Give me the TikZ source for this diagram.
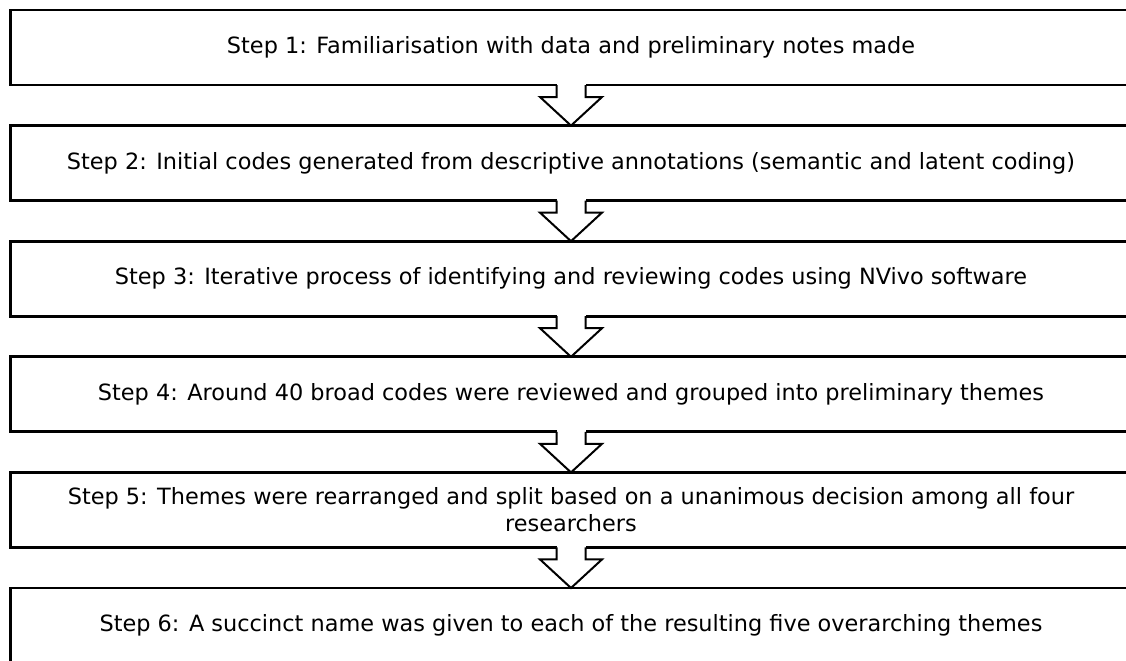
\documentclass[tikz,border=0pt]{standalone}
\usepackage{fontspec}
\setmainfont{DejaVu Sans}
\usetikzlibrary{positioning,calc}

\tikzset{
	stepbox/.style={draw, line width=1.4pt, minimum width=560.5pt, minimum height=37.5pt,
		align=center, font=\fontsize{11.2}{13.6}\selectfont, inner sep=0pt},
	downarrow/.style={line width=1pt, line join=miter},
}

\begin{document}
\begin{tikzpicture}[x=0.5pt,y=-0.5pt]
	\useasboundingbox (0,0) rectangle (1126,660);
	\clip (0,0) rectangle (1126,660);
	%% the six steps
	\node[stepbox] (s1) at (571,47.5) {Step 1: Familiarisation with data and preliminary notes made};
	\node[stepbox, below =18.9pt of s1] (s2) {Step 2: Initial codes generated from descriptive annotations (semantic and latent coding)};
	\node[stepbox, below =18.9pt of s2] (s3) {Step 3: Iterative process of identifying and reviewing codes using NVivo software};
	\node[stepbox, below =18.9pt of s3] (s4) {Step 4: Around 40 broad codes were reviewed and grouped into preliminary themes};
	\node[stepbox, below =18.9pt of s4] (s5) {Step 5: Themes were rearranged and split based on a unanimous decision among all four\\researchers};
	\node[stepbox, below =18.9pt of s5] (s6) {Step 6: A succinct name was given to each of the resulting five overarching themes};
	% block arrows between the steps
	\foreach \i/\j in {1/2,2/3,3/4,4/5,5/6}{
		\fill[white] ($(s\i.south)+(-14.5,-3)$) rectangle ($(s\i.south)+(14.5,10.6)$);
		\draw[downarrow, fill=white] ($(s\i.south)+(-14.5,-1.4)$) -- ++(0,12) -- ++(-16.5,0)
			-- ($(s\j.north)+(0,1.4)$) -- ($(s\i.south)+(31,10.6)$) -- ++(-16.5,0) -- ++(0,-12);
	}
\end{tikzpicture}
\end{document}
